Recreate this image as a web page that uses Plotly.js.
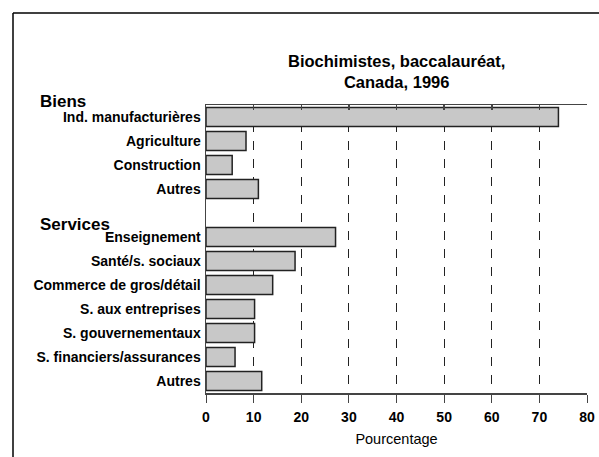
<!DOCTYPE html>
<html>
<head>
<meta charset="utf-8">
<script src="https://cdn.plot.ly/plotly-3.0.1.min.js"></script>
<style>html,body{margin:0;padding:0;background:#fff;}#chart{width:599px;height:457px;}</style>
</head>
<body>
<div id="chart"></div>
<script>
const chartTitle = 'Biochimistes, baccalauréat,<br>Canada, 1996';
const xAxisTitle = 'Pourcentage';
const groupNames = ['Biens', 'Services'];
const bienCats = ['Ind. manufacturières', 'Agriculture', 'Construction', 'Autres'];
const bienVals = [74, 8.4, 5.5, 11];
const serviceCats = ['Enseignement', 'Santé/s. sociaux', 'Commerce de gros/détail', 'S. aux entreprises', 'S. gouvernementaux', 'S. financiers/assurances', 'Autres'];
const serviceVals = [27.2, 18.7, 14, 10.2, 10.2, 6.1, 11.7];
const xTickVals = [0, 10, 20, 30, 40, 50, 60, 70, 80];

// row positions: Biens rows, one blank row, then Services rows
const yPos = [];
const labels = [];
const vals = [];
bienCats.forEach((c, i) => { yPos.push(i); labels.push(c); vals.push(bienVals[i]); });
const offset = bienCats.length + 1;
serviceCats.forEach((c, i) => { yPos.push(offset + i); labels.push(c); vals.push(serviceVals[i]); });
const nRows = offset + serviceCats.length;

const FONT = 'Arial, "Liberation Sans", Helvetica, sans-serif';

const traces = [
  {
    type: 'bar', orientation: 'h',
    x: vals, y: yPos,
    width: 0.8,
    marker: { color: '#c8c8c8', line: { color: '#222', width: 1.5 } },
    hoverinfo: 'skip'
  },
  {
    type: 'scatter', mode: 'markers', x: [0], y: [0], xaxis: 'x2', yaxis: 'y',
    marker: { opacity: 0 }, hoverinfo: 'skip', showlegend: false
  }
];

const plotTopPx = 105, plotBotPx = 393, plotLeftPx = 206, plotRightPx = 587;
const ph = plotBotPx - plotTopPx, pw = plotRightPx - plotLeftPx;
const pyPaper = py => (plotBotPx - py) / ph;
const pxPaper = px => (px - plotLeftPx) / pw;

const layout = {
  width: 599, height: 457,
  margin: { l: plotLeftPx, r: 599 - plotRightPx, t: plotTopPx, b: 457 - plotBotPx, pad: 0 },
  paper_bgcolor: '#fff', plot_bgcolor: '#fff',
  showlegend: false,
  font: { family: FONT, color: '#000' },
  bargap: 0.2,
  xaxis: {
    range: [0, 80], tickvals: xTickVals, ticktext: xTickVals.map(String),
    showgrid: true, gridcolor: '#222', gridwidth: 1, griddash: 'dash',
    zeroline: false, showline: true, linecolor: '#444', linewidth: 1.5,
    ticks: 'outside', ticklen: 8, tickcolor: '#444', tickwidth: 1,
    ticklabelstandoff: 3,
    tickfont: { family: FONT, size: 14, weight: 'bold', color: '#000' },
    title: { text: xAxisTitle, font: { family: FONT, size: 14.5, color: '#000' }, standoff: 9 },
    fixedrange: true
  },
  xaxis2: {
    overlaying: 'x', side: 'top', range: [0, 80], tickvals: xTickVals,
    showticklabels: false, showgrid: false, zeroline: false,
    showline: true, linecolor: '#444', linewidth: 1.5,
    ticks: 'inside', ticklen: 5, tickwidth: 1.5, tickcolor: '#444'
  },
  yaxis: {
    range: [nRows - 0.5, -0.5], tickvals: yPos, ticktext: labels,
    showgrid: false, zeroline: false, showline: true, linecolor: '#444', linewidth: 1.5,
    ticks: '', ticklabelstandoff: 1,
    tickfont: { family: FONT, size: 14, weight: 'bold', color: '#000' },
    fixedrange: true
  },
  annotations: [
    { text: chartTitle, xref: 'paper', yref: 'paper', x: 0.5, y: pyPaper(71), xanchor: 'center', yanchor: 'middle',
      showarrow: false, font: { family: FONT, size: 16.5, weight: 'bold', color: '#000' } },
    { text: groupNames[0], xref: 'paper', yref: 'paper', x: pxPaper(38), y: pyPaper(102), xanchor: 'left', yanchor: 'middle',
      showarrow: false, font: { family: FONT, size: 17, weight: 'bold', color: '#000' } },
    { text: groupNames[1], xref: 'paper', yref: 'paper', x: pxPaper(38), y: pyPaper(224), xanchor: 'left', yanchor: 'middle',
      showarrow: false, font: { family: FONT, size: 17, weight: 'bold', color: '#000' } }
  ],
  shapes: [
    { type: 'line', xref: 'paper', yref: 'paper', x0: pxPaper(13), x1: pxPaper(599), y0: pyPaper(13), y1: pyPaper(13), line: { color: '#000', width: 1.5 } },
    { type: 'line', xref: 'paper', yref: 'paper', x0: pxPaper(13), x1: pxPaper(13), y0: pyPaper(13), y1: pyPaper(457), line: { color: '#000', width: 1.5 } }
  ]
};

Plotly.newPlot('chart', traces, layout, { displayModeBar: false, staticPlot: true });
</script>
</body>
</html>
